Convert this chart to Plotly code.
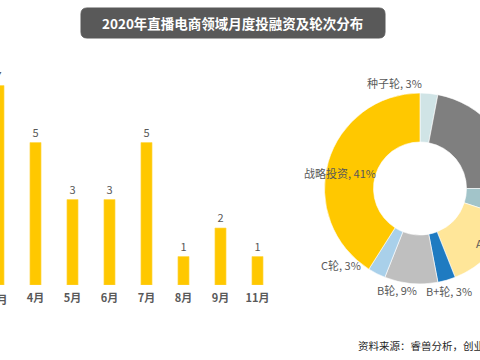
import plotly.graph_objects as go

# ---- data ----
months = ["3月", "4月", "5月", "6月", "7月", "8月", "9月", "11月"]
deals = [7, 5, 3, 3, 5, 1, 2, 1]

rounds = ["种子轮", "天使轮", "Pre-A轮", "A轮", "B+轮", "B轮", "C轮", "战略投资"]
shares = [3, 22, 5, 14, 3, 9, 3, 41]
round_colors = ["#D0E4E6", "#7F7F7F", "#A2C4C9", "#FFE699", "#1F7BC1", "#BFBFBF", "#A9D0EA", "#FFC800"]

title_text = "2020年直播电商领域月度投融资及轮次分布"
source_text = "资料来源：睿兽分析，创业邦研究中心"

W, H = 600, 360
FONT = "Noto Sans CJK SC"
GRAY = "#595959"

def px(x):
    return x / W

def py(y):
    return 1 - y / H

fig = go.Figure()

fig.add_trace(go.Bar(
    x=months, y=deals, width=0.3,
    marker=dict(color="#FFC800", line=dict(color="#FFD84D", width=0.6)),
    text=deals, textposition="outside", cliponaxis=True,
    textfont=dict(family=FONT, size=11, color=GRAY),
    xaxis="x", yaxis="y", showlegend=False, hoverinfo="skip",
))

# pie geometry: centre (420,188.5), radius 95.5
cx, cy, R = 420, 188.5, 95.5
fig.add_trace(go.Pie(
    labels=rounds, values=shares, sort=False, direction="clockwise",
    hole=0.487, marker=dict(colors=round_colors, line=dict(color="white", width=0.6)),
    textinfo="none", showlegend=False, hoverinfo="skip",
    domain=dict(x=[px(cx - R), px(cx + R)], y=[py(cy + R), py(cy - R)]),
))

# bar axes: category spacing 37px, first category at x=-1.5px, baseline at y=285, 28.5px/unit
x_dom = [0, px(280)]
span = 280 / 37
r0 = 1.5 / 37
y_top = 60
tickfont = dict(family=FONT, size=11, color=GRAY, weight="bold")
fig.update_layout(
    width=W, height=H,
    margin=dict(l=0, r=0, t=0, b=0),
    paper_bgcolor="white", plot_bgcolor="white",
    xaxis=dict(domain=x_dom, range=[r0, r0 + span], type="category",
               showgrid=False, zeroline=False, showline=False, ticks="",
               ticklabelstandoff=5, tickfont=tickfont),
    yaxis=dict(domain=[py(285), py(y_top)], range=[0, (285 - y_top) / 28.5],
               visible=False, showgrid=False, zeroline=False),
)

# rounded title box
x0, x1, y0, y1, r = 81, 385, 8, 38, 6
rx, ry = r / W, r / H
path = (f"M {px(x0)+rx},{py(y0)} L {px(x1)-rx},{py(y0)} Q {px(x1)},{py(y0)} {px(x1)},{py(y0)-ry} "
        f"L {px(x1)},{py(y1)+ry} Q {px(x1)},{py(y1)} {px(x1)-rx},{py(y1)} "
        f"L {px(x0)+rx},{py(y1)} Q {px(x0)},{py(y1)} {px(x0)},{py(y1)+ry} "
        f"L {px(x0)},{py(y0)-ry} Q {px(x0)},{py(y0)} {px(x0)+rx},{py(y0)} Z")
fig.add_shape(type="path", path=path, xref="paper", yref="paper",
              fillcolor="#595959", line=dict(color="#595959", width=1))

annotations = [
    dict(x=px(233), y=py(23), text=title_text,
         font=dict(family=FONT, size=13.5, color="white", weight="bold")),
    dict(x=px(356), y=py(345), text=source_text, xanchor="left",
         font=dict(family=FONT, size=10.5, color="#262626")),
    # the first month's tick label sits partly outside the axis range, so draw it here
    dict(x=px(-1.5), y=py(299), text=months[0], font=tickfont),
]

# pie labels (positions are styling)
label_pos = {
    "种子轮": (424, 83, "right"),
    "天使轮": (520, 120, "left"),
    "Pre-A轮": (525, 200, "left"),
    "A轮": (474, 243, "left"),
    "B+轮": (449, 291, "center"),
    "B轮": (397, 290, "center"),
    "C轮": (363, 265, "right"),
    "战略投资": (340, 173, "center"),
}
for name, val in zip(rounds, shares):
    lx, ly, anc = label_pos[name]
    annotations.append(dict(x=px(lx), y=py(ly), text=f"{name}, {val}%", xanchor=anc,
                            font=dict(family=FONT, size=11, color=GRAY)))
for a in annotations:
    a.update(xref="paper", yref="paper", showarrow=False, yanchor="middle")
    a.setdefault("xanchor", "center")
fig.update_layout(annotations=annotations)

fig.write_html("out.html", config=dict(displayModeBar=False),
               post_script="document.documentElement.style.overflow='hidden';"
                           "document.body.style.margin='0';document.body.style.overflow='hidden';")
